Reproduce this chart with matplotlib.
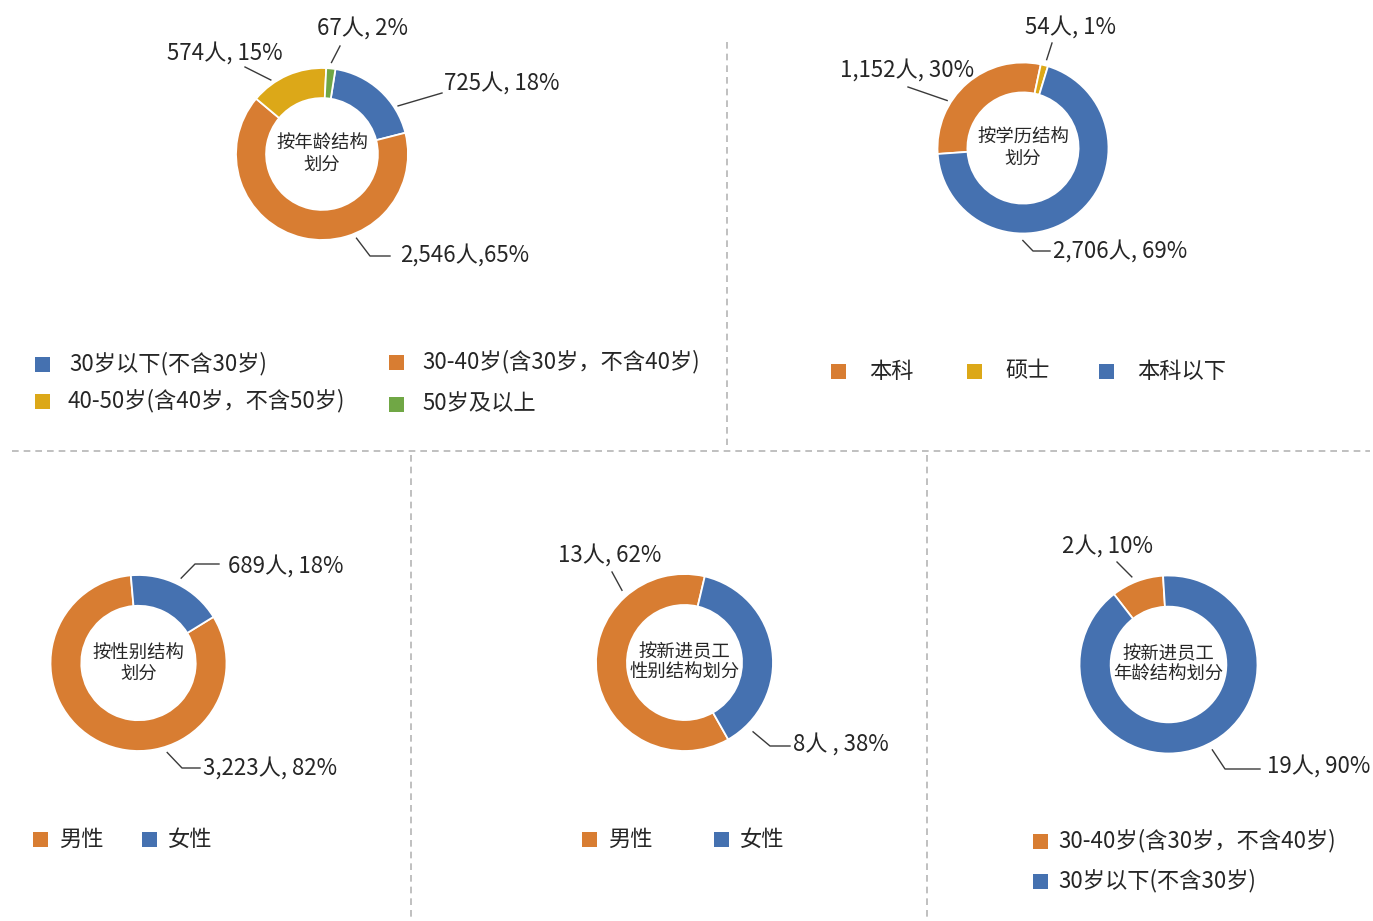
import matplotlib
matplotlib.use('Agg')
import matplotlib.pyplot as plt
from matplotlib.patches import Rectangle
import numpy as np

plt.rcParams['font.family'] = ['Noto Sans CJK SC', 'DejaVu Sans']

W, H = 1373, 921

BLUE = '#4571B0'
ORANGE = '#D87D32'
GOLD = '#DCA818'
GREEN = '#70A745'
TEXT = '#262626'
LINE = '#3A3A3A'
SEP = '#B5B5B5'

# ---- data -------------------------------------------------------------
age_labels = ['30岁以下(不含30岁)', '30-40岁(含30岁，不含40岁)',
              '40-50岁(含40岁，不含50岁)', '50岁及以上']
age_counts = [725, 2546, 574, 67]
age_pcts = [18, 65, 15, 2]

edu_labels = ['本科', '硕士', '本科以下']
edu_counts = [1152, 54, 2706]
edu_pcts = [30, 1, 69]

gender_labels = ['男性', '女性']
gender_counts = [3223, 689]
gender_pcts = [82, 18]

new_gender_labels = ['男性', '女性']
new_gender_counts = [13, 8]
new_gender_pcts = [62, 38]

new_age_labels = ['30-40岁(含30岁，不含40岁)', '30岁以下(不含30岁)']
new_age_counts = [2, 19]
new_age_pcts = [10, 90]


def polar(cx, cy, theta, r):
    # theta measured clockwise from 12 o'clock, pixel coords (y down)
    t = np.radians(theta)
    return cx + r * np.sin(t), cy - r * np.cos(t)


def donut(ax, counts, pcts, colors, title, center, R, start, seps, leaders):
    cx, cy = center
    counts = np.asarray(counts, dtype=float)
    fr = counts / counts.sum()
    starts = start + 360 * np.concatenate([[0], np.cumsum(fr)[:-1]])
    # y axis is inverted, so counterclock in data space is clockwise on screen
    ax.pie(counts, colors=colors, startangle=start - 90, counterclock=True,
           radius=R, center=(cx, cy), frame=False,
           wedgeprops=dict(width=R * 0.35, edgecolor='white', linewidth=1.3))
    ax.text(cx, cy, title, ha='center', va='center', fontsize=13.2,
            color=TEXT, linespacing=1.2)
    for i, (frac, gap, path, txy) in enumerate(leaders):
        theta = starts[i] + frac * 360 * fr[i]
        p0 = polar(cx, cy, theta, R + gap)
        pts = [p0] + path
        ax.plot([p[0] for p in pts], [p[1] for p in pts], color=LINE,
                lw=1.0, clip_on=False)
        label = f"{int(counts[i]):,}人{seps[i]}{pcts[i]}%"
        ax.text(txy[0], txy[1], label, ha='left', va='center',
                fontsize=16, color=TEXT)


def legend(ax, labels, colors, marker_xy, text_x):
    for lab, col, (mx, my), tx in zip(labels, colors, marker_xy, text_x):
        ax.add_patch(Rectangle((mx, my - 7.5), 15, 15, facecolor=col,
                               edgecolor='none'))
        ax.text(tx, my, lab, ha='left', va='center', fontsize=16, color=TEXT)


def main():
    fig = plt.figure(figsize=(W / 100, H / 100), dpi=100)
    ax = fig.add_axes([0, 0, 1, 1])

    # 1. age structure
    donut(ax, age_counts, age_pcts, [BLUE, ORANGE, GOLD, GREEN],
          '按年龄结构\n划分', (322, 154), 86, 9,
          [', ', ',', ', ', ', '],
          [(0.73, 4, [(442, 93)], (444, 83)),
           (0.35, 5, [(370, 256), (390, 256)], (400, 255)),
           (0.29, 4, [(245, 67)], (167, 53)),
           (0.5, 6, [(340, 46)], (317, 28))])
    legend(ax, age_labels, [BLUE, ORANGE, GOLD, GREEN],
           [(35, 364), (389, 362), (35, 401), (389, 404)],
           [69, 422, 68, 422])

    # 2. education structure
    donut(ax, edu_counts, edu_pcts, [ORANGE, GOLD, BLUE],
          '按学历结构\n划分', (1023, 148), 85.5, 266,
          [', ', ', ', ', '],
          [(0.34, 4, [(908, 87)], (840, 70)),
           (0.6, 6, [(1052, 43)], (1025, 27)),
           (0.655, 7, [(1033, 251), (1050, 251)], (1053, 251))])
    legend(ax, edu_labels, [ORANGE, GOLD, BLUE],
           [(831, 371), (967, 371), (1099, 371)], [869, 1005, 1137])

    # 3. gender structure
    donut(ax, gender_counts, gender_pcts, [ORANGE, BLUE],
          '按性别结构\n划分', (138.5, 663), 88, 58.4,
          [', ', ', '],
          [(0.35, 6, [(182, 768), (200, 768)], (203, 768)),
           (0.5, 7, [(195, 564), (219, 564)], (228, 566))])
    legend(ax, gender_labels, [ORANGE, BLUE],
           [(33, 839), (142, 839)], [59, 168])

    # 4. new staff by gender
    donut(ax, new_gender_counts, new_gender_pcts, [ORANGE, BLUE],
          '按新进员工\n性别结构划分', (684.5, 662.5), 88.5, 150.4,
          [', ', ' , '],
          [(0.757, 7, [(612, 572)], (558, 555)),
           (0.89, 9, [(770, 746), (790, 746)], (793, 744))])
    legend(ax, new_gender_labels, [ORANGE, BLUE],
           [(582, 839), (714, 839)], [608, 740])

    # 5. new staff by age
    donut(ax, new_age_counts, new_age_pcts, [ORANGE, BLUE],
          '按新进员工\n年龄结构划分', (1168.5, 664.5), 89, -37.8,
          [', ', ', '],
          [(0.44, 6, [(1117, 562)], (1062, 546)),
           (0.48, 7, [(1225, 769), (1260, 769)], (1267, 766))])
    legend(ax, new_age_labels, [ORANGE, BLUE],
           [(1033, 841), (1033, 881)], [1058, 1058])

    # dashed separators
    dash = dict(color=SEP, lw=1.2, ls=(0, (4, 3)))
    ax.plot([727, 727], [42, 445], **dash)
    ax.plot([12, 1370], [451, 451], **dash)
    ax.plot([411, 411], [455, 921], **dash)
    ax.plot([927, 927], [455, 921], **dash)

    ax.set_xlim(0, W)
    ax.set_ylim(H, 0)
    ax.set_aspect('equal')
    ax.axis('off')
    fig.savefig('out.png', dpi=100)


if __name__ == "__main__":
    main()
